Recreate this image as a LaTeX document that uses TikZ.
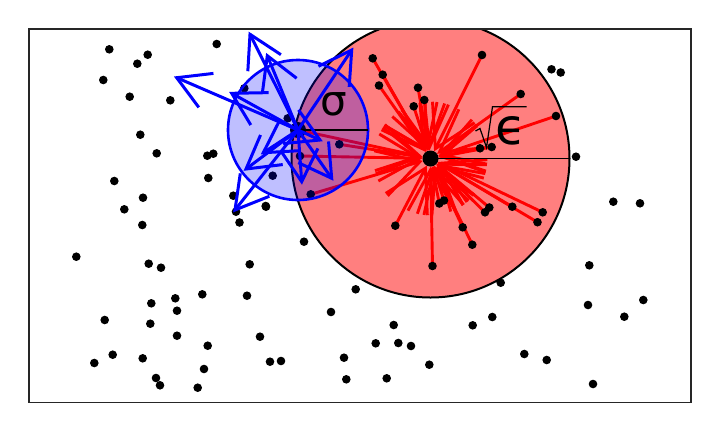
\documentclass[tikz,border=0pt]{standalone}
\usepackage{fontspec}
\newfontfamily\dejavu{DejaVu Sans}
\usetikzlibrary{calc}
\tikzset{
  blackdot/.style={fill=black, draw=none},
  redshaft/.style={draw=red, line width=2.9pt, line join=miter},
  blueshaft/.style={draw=blue, line width=3pt, line join=miter},
  radiusline/.style={draw=black, line width=1.3pt},
  framebox/.style={draw=black!85, line width=1.3pt},
  biglabel/.style={inner sep=0pt, text=black},
}
\newcommand\redarrowto[2]{%
  \coordinate (redtip) at ($(#2)!11pt!(#1)$);
  \draw[redshaft] (#1) -- (redtip);
  \draw[redshaft] ($(redtip)!47pt!30:(#1)$) -- (redtip) -- ($(redtip)!47pt!-30:(#1)$);}
\newcommand\bluearrowto[2]{%
  \draw[blueshaft] (#1) -- (#2);
  \draw[blueshaft] ($(#2)!37pt!30:(#1)$) -- (#2) -- ($(#2)!37pt!-30:(#1)$);}
\begin{document}
\begin{tikzpicture}[x=1pt,y=-1pt]
\useasboundingbox (0,0) rectangle (720,432);
\fill[white] (0,0) rectangle (720,432);
% centres
\coordinate (R) at (430.5,158.5);
\coordinate (C) at (298,130);
\coordinate (Redge) at (569.5,158.5);
\coordinate (Cedge) at (368,130);
% points inside red circle
\coordinate (r1) at (372.7,58.3);
\coordinate (r2) at (382.7,74.7);
\coordinate (r3) at (379,85.5);
\coordinate (r4) at (418,87.7);
\coordinate (r5) at (424.3,100);
\coordinate (r6) at (413.7,106.3);
\coordinate (r7) at (482,55);
\coordinate (r8) at (520.7,94);
\coordinate (r9) at (556,116);
\coordinate (r10) at (480,148.3);
\coordinate (r11) at (491.7,147);
\coordinate (r12) at (439.3,203.5);
\coordinate (r13) at (444,200.5);
\coordinate (r14) at (395.3,225.7);
\coordinate (r15) at (462.7,227.3);
\coordinate (r16) at (472.3,244.7);
\coordinate (r17) at (432.5,266);
\coordinate (r18) at (485,212.3);
\coordinate (r19) at (489.3,207.5);
\coordinate (r20) at (512.3,206.7);
\coordinate (r21) at (542.7,212.3);
\coordinate (r22) at (537.5,222.2);
\coordinate (r23) at (339.3,144.3);
\coordinate (r24) at (300,156);
\coordinate (r25) at (310.7,194.3);
% blue arrow tips
\coordinate (b1) at (176.7,77.7);
\coordinate (b2) at (250,34.3);
\coordinate (b3) at (267.3,55.7);
\coordinate (b4) at (231.7,93.3);
\coordinate (b5) at (351.7,50);
\coordinate (b6) at (235,210);
\coordinate (b7) at (246,169);
\coordinate (b8) at (263.3,152.7);
\coordinate (b9) at (301.7,181.7);
\coordinate (b10) at (331.7,178.3);
\coordinate (b11) at (320,140);
\begin{scope}
\clip (29,29) rectangle (691,402.5);
% red circle
\fill[red, fill opacity=0.5] (R) circle[radius=139pt];
\draw[black, line width=2pt] (R) circle[radius=139pt];
% red arrows towards the red centre
\foreach \p in {r1,r2,r3,r4,r5,r6,r7,r8,r9,r10,r11,r12,r13,r14,r15,r16,r17,r18,r19,r20,r21,r22,r23,r24,r25,C}
  {\redarrowto{\p}{R}}
% points
\foreach \p in {r1,r2,r3,r4,r5,r6,r7,r8,r9,r10,r11,r12,r13,r14,r15,r16,r17,r18,r19,r20,r21,r22,r23,r24,r25}
  {\fill[blackdot] (\p) circle[radius=4.3pt];}
\foreach \x/\y in {109.3/49.3, 147.7/54.7, 137.3/63.7, 216.7/44, 103.3/80, 129.7/96.7,
  170.3/100.3, 244.3/88.3, 140.3/134.7, 156.7/153.3, 207.3/155.7, 213.3/153.7,
  114.3/181, 208.3/178, 143/197.7, 124.3/209.3, 233.3/195.7, 236/211.7, 142.3/225,
  239.5/222.5, 265.7/206, 304/241.7, 76.3/256.7, 148.7/263.7, 161/267.7, 249.7/264.3,
  355.7/289.3, 202.3/294.3, 247/295.7, 175.3/298.3, 151.3/303.3, 177/310.7, 331/312,
  104.7/320, 150.3/323.7, 177/335.7, 260/336.7, 207.7/345.7, 344/357.7, 112.7/354.7,
  94.3/363, 142.7/358.3, 270/361.7, 281/361, 204/369, 346.3/379.3, 156/378, 160/385.3,
  197.7/387.7, 613.3/201.7, 640/203.3, 589.3/265.3, 500.7/282.7, 588/305, 643.3/300,
  624.3/316.7, 393.7/325, 492.3/317, 472.7/325.3, 375.7/343.3, 398.3/343, 411/346,
  429.3/364.7, 524.3/354, 546.7/360, 386.7/378.3, 593/384, 551.5/69.3, 560.7/72.5,
  576/156.7, 287.7/118.3, 272.7/175.7, 266/206.7}
  {\fill[blackdot] (\x,\y) circle[radius=4.3pt];}
\fill[blackdot] (R) circle[radius=8pt];
\fill[blackdot] (C) circle[radius=8pt];
% blue circle
\fill[blue, fill opacity=0.25] (C) circle[radius=70pt];
\draw[blue, line width=2.6pt] (C) circle[radius=70pt];
% radius lines
\draw[radiusline] (C) -- (Cedge);
\draw[radiusline] (R) -- (Redge);
% blue arrows from the blue centre
\foreach \p in {b1,b2,b3,b4,b5,b6,b7,b8,b9,b10,b11}
  {\bluearrowto{C}{\p}}
\end{scope}
% labels
\node[biglabel, font=\dejavu\fontsize{42}{42}\selectfont] (sigma) at (334,104) {σ};
\node[biglabel, font=\dejavu\fontsize{50}{50}\selectfont] (eps) at (511,131) {ϵ};
\draw[black, line width=1.2pt, line join=miter] (475.5,131) -- (480,128.5) -- (486.5,147.5) -- (492.5,106.7) -- (526.7,106.7);
% frame
\draw[framebox] (29,29) rectangle (691,402.5);
\end{tikzpicture}
\end{document}
